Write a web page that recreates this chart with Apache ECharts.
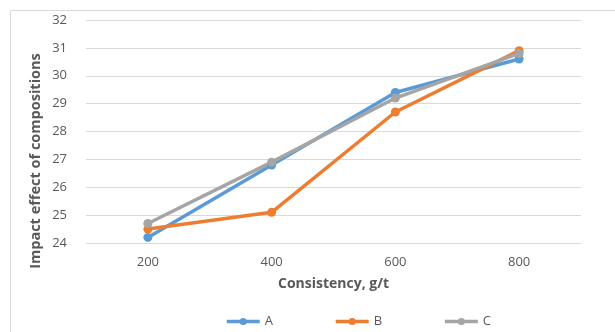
<!DOCTYPE html>
<html><head><meta charset="utf-8">
<script src="https://cdn.jsdelivr.net/npm/echarts@6/dist/echarts.min.js"></script>
<style>html,body{margin:0;padding:0;background:#fff}#c{width:615px;height:332px}</style>
</head><body><div id="c"></div>
<script>
var categories = ['200', '400', '600', '800'];
var seriesA = [24.2, 26.8, 29.4, 30.6];
var seriesB = [24.5, 25.1, 28.7, 30.9];
var seriesC = [24.7, 26.9, 29.2, 30.8];
var names = ['A', 'B', 'C'];
var colors = ['#5B9BD5', '#ED7D31', '#A5A5A5'];
var yTitle = 'Impact effect of compositions';
var FONT = '"Open Sans", "Noto Sans", sans-serif';
var chart = echarts.init(document.getElementById('c'));
function mk(name, data, color) {
  return { name: name, type: 'line', data: data, symbol: 'circle', symbolSize: 9,
    lineStyle: { width: 3.5, color: color }, itemStyle: { color: color }, z: 3 };
}
chart.setOption({
  animation: false,
  graphic: [
    { type: 'rect', shape: { x: 10.5, y: 10.5, width: 620, height: 340 },
      style: { fill: 'none', stroke: '#d9d9d9', lineWidth: 1 }, silent: true },
    { type: 'text', x: 36, y: 161, rotation: Math.PI / 2,
      style: { text: yTitle, fill: '#595959', font: 'bold 14.5px ' + FONT,
        textAlign: 'center', textVerticalAlign: 'middle' } }
  ],
  grid: { left: 86, right: 34, top: 20, bottom: 89 },
  legend: { top: 310, left: 220, itemGap: 61, itemWidth: 33, itemHeight: 9,
    lineStyle: { width: 3.5 },
    textStyle: { color: '#595959', fontFamily: FONT, fontSize: 13 },
    data: names },
  xAxis: { type: 'category', data: categories, boundaryGap: true,
    name: 'Consistency, g/t', nameLocation: 'middle', nameGap: 34,
    nameTextStyle: { color: '#595959', fontFamily: FONT, fontSize: 14, fontWeight: 'bold' },
    axisLine: { show: false }, axisTick: { show: false },
    axisLabel: { color: '#595959', fontFamily: FONT, fontSize: 13, margin: 13 } },
  yAxis: { type: 'value', min: 24, max: 32, interval: 1,
    axisLine: { show: false }, axisTick: { show: false },
    axisLabel: { color: '#595959', fontFamily: FONT, fontSize: 13, margin: 19 },
    splitLine: { lineStyle: { color: '#d9d9d9', width: 1 } } },
  series: [mk('A', seriesA, colors[0]), mk('B', seriesB, colors[1]), mk('C', seriesC, colors[2])]
});
</script></body></html>
